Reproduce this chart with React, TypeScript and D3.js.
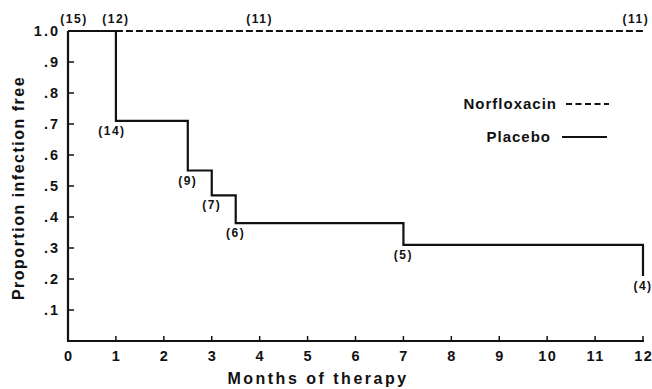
import React from 'react'
import * as d3 from 'd3'

// Kaplan-Meier style step data, months vs proportion infection free
const placeboMonths = [0, 1, 2.5, 3, 3.5, 7, 12]
const placeboValues = [1.0, 0.71, 0.55, 0.47, 0.38, 0.31, 0.21]
const placeboCounts = ['(15)', '(14)', '(9)', '(7)', '(6)', '(5)', '(4)']

const norfloxacinMonths = [1, 12]
const norfloxacinValues = [1.0, 1.0]
const norfloxacinCountMonths = [1, 4, 11.85]
const norfloxacinCounts = ['(12)', '(11)', '(11)']

const xTicks = d3.range(0, 13)
const yTicks = [0.1, 0.2, 0.3, 0.4, 0.5, 0.6, 0.7, 0.8, 0.9, 1.0]
const yTickLabels = ['.1', '.2', '.3', '.4', '.5', '.6', '.7', '.8', '.9', '1.0']

const width = 652
const height = 389
const margin = { top: 31, right: 9, bottom: 48, left: 68 }
const ink = '#111'
const font = '"Liberation Sans", Arial, Helvetica, sans-serif'

export default function App() {
  const x = d3.scaleLinear().domain([0, 12]).range([margin.left, width - margin.right])
  const y = d3.scaleLinear().domain([0, 1]).range([height - margin.bottom, margin.top])

  const placebo = placeboMonths.map((m, i) => ({ m, v: placeboValues[i] }))
  const norflox = norfloxacinMonths.map((m, i) => ({ m, v: norfloxacinValues[i] }))

  const stepLine = d3
    .line<{ m: number; v: number }>()
    .x((d) => x(d.m))
    .y((d) => y(d.v))
    .curve(d3.curveStepAfter)

  const flatLine = d3
    .line<{ m: number; v: number }>()
    .x((d) => x(d.m))
    .y((d) => y(d.v))

  const y0 = y(0)

  // labels under each step of placebo curve (first one sits above the top line)
  const placeboLabelPos = placebo.map((d, i) => {
    if (i === 0) return { x: x(d.m) + 6, y: y(1) - 8 }
    return { x: x(d.m) - (i === 1 ? 4 : 0), y: y(d.v) + 14 }
  })

  return (
    <svg
      width={width}
      height={height}
      style={{ position: 'absolute', left: 0, top: 0, background: '#fff' }}
      fontFamily={font}
      fontWeight="bold"
      fill={ink}
    >
      {/* axes */}
      <line x1={x(0)} x2={x(0)} y1={y(1)} y2={y0} stroke={ink} strokeWidth={2.2} />
      <line x1={x(0) - 1} x2={x(12) + 1} y1={y0} y2={y0} stroke={ink} strokeWidth={2.2} />

      {xTicks.map((t) => (
        <g key={'x' + t}>
          {t > 0 && <line x1={x(t)} x2={x(t)} y1={y0} y2={y0 - 5} stroke={ink} strokeWidth={1.5} />}
          <text x={x(t) + 0.7} y={y0 + 20} textAnchor="middle" fontSize={14.5} letterSpacing={1.5}>
            {t}
          </text>
        </g>
      ))}

      {yTicks.map((t, i) => (
        <g key={'y' + t}>
          {t < 1 && <line x1={x(0)} x2={x(0) + 6} y1={y(t)} y2={y(t)} stroke={ink} strokeWidth={1.5} />}
          <text x={x(0) - 8} y={y(t) + 5} textAnchor="end" fontSize={14.5} letterSpacing={2}>
            {yTickLabels[i]}
          </text>
        </g>
      ))}

      <text x={318} y={384} textAnchor="middle" fontSize={16} letterSpacing={2.5}>
        Months of therapy
      </text>
      <text
        transform={`translate(24,${(y(1) + y0) / 2 + 2}) rotate(-90)`}
        textAnchor="middle"
        fontSize={16}
        letterSpacing={1.5}
      >
        Proportion infection free
      </text>

      {/* curves */}
      <path d={flatLine(norflox) || ''} fill="none" stroke={ink} strokeWidth={2.2} strokeDasharray="7,3" />
      <path d={stepLine(placebo) || ''} fill="none" stroke={ink} strokeWidth={2.2} />

      {/* number at risk labels */}
      {placeboCounts.map((c, i) => (
        <text
          key={'pc' + i}
          x={placeboLabelPos[i].x}
          y={placeboLabelPos[i].y}
          textAnchor="middle"
          fontSize={12}
          letterSpacing={1.5}
        >
          {c}
        </text>
      ))}
      {norfloxacinCounts.map((c, i) => (
        <text
          key={'nc' + i}
          x={x(norfloxacinCountMonths[i])}
          y={y(1) - 8}
          textAnchor="middle"
          fontSize={12}
          letterSpacing={1.5}
        >
          {c}
        </text>
      ))}

      {/* legend */}
      <text x={557} y={109} textAnchor="end" fontSize={15} letterSpacing={1}>
        Norfloxacin
      </text>
      <line x1={566} x2={609} y1={104} y2={104} stroke={ink} strokeWidth={2.2} strokeDasharray="6,3.5" />
      <text x={551} y={142} textAnchor="end" fontSize={15} letterSpacing={1}>
        Placebo
      </text>
      <line x1={562} x2={607} y1={137} y2={137} stroke={ink} strokeWidth={2.2} />
    </svg>
  )
}
